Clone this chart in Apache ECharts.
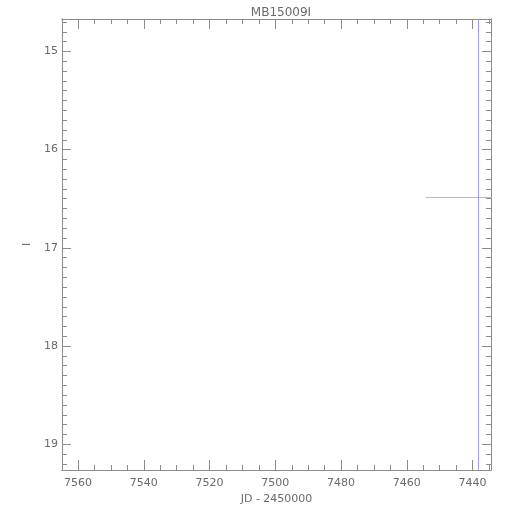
<!DOCTYPE html>
<html><head><meta charset="utf-8">
<script src="https://cdn.jsdelivr.net/npm/echarts@6/dist/echarts.min.js"></script>
<style>html,body{margin:0;padding:0;background:#fff}#c{width:510px;height:510px}</style>
</head><body><div id="c"></div>
<script>
const title = 'MB15009I';
const xName = 'JD - 2450000';
const yName = 'I';
const xRange = [7434.4, 7564.9];
const yRange = [14.67, 19.262];
const xMajorTicks = [7440, 7460, 7480, 7500, 7520, 7540, 7560];
const yMajorTicks = [15, 16, 17, 18, 19];
const xMinorStep = 5;
const yMinorStep = 0.1;
const greenLineX = [7454.3, 7420];
const greenLineY = [16.487, 16.487];
const blueLineX = 7438.17;

const xMinor = [];
for (let v = Math.ceil(xRange[0] / xMinorStep) * xMinorStep; v <= xRange[1]; v += xMinorStep) xMinor.push(v);
const yMinor = [];
for (let i = Math.ceil(yRange[0] / yMinorStep); i * yMinorStep <= yRange[1]; i++) yMinor.push(Math.round(i * yMinorStep * 10) / 10);

const axisColor = '#8c8c8c';
const textColor = '#6a6a6a';
const font = 'DejaVu Sans';

function xAx(pos, ticks, len, labels) {
  return {
    type: 'value', position: pos, inverse: true, min: xRange[0], max: xRange[1],
    axisLine: { show: true, onZero: false, lineStyle: { color: axisColor, width: 1 } },
    axisTick: { show: true, inside: true, length: len, customValues: ticks, lineStyle: { color: axisColor } },
    axisLabel: labels ? { show: true, customValues: xMajorTicks, formatter: v => String(v), color: textColor, fontFamily: font, fontSize: 11, margin: 8 } : { show: false },
    splitLine: { show: false },
    name: labels ? xName : '', nameLocation: 'middle', nameGap: 24,
    nameTextStyle: { color: textColor, fontFamily: font, fontSize: 11 }
  };
}
function yAx(pos, ticks, len, labels) {
  return {
    type: 'value', position: pos, inverse: true, min: yRange[0], max: yRange[1],
    axisLine: { show: true, onZero: false, lineStyle: { color: axisColor, width: 1 } },
    axisTick: { show: true, inside: true, length: len, customValues: ticks, lineStyle: { color: axisColor } },
    axisLabel: labels ? { show: true, customValues: yMajorTicks, formatter: v => String(v), color: textColor, fontFamily: font, fontSize: 11, margin: 4 } : { show: false },
    splitLine: { show: false },
    name: labels ? yName : '', nameLocation: 'middle', nameGap: 29, nameRotate: 90,
    nameTextStyle: { color: textColor, fontFamily: font, fontSize: 11 }
  };
}

const chart = echarts.init(document.getElementById('c'), null, { renderer: 'canvas' });
chart.setOption({
  animation: false,
  backgroundColor: '#fff',
  title: { text: title, left: 276, top: 2, textAlign: 'center',
    textStyle: { color: textColor, fontFamily: font, fontSize: 12, fontWeight: 'normal' } },
  grid: { left: 62, right: 19, top: 19, bottom: 40, containLabel: false },
  xAxis: [
    xAx('bottom', xMajorTicks, 10, true),
    xAx('top', xMajorTicks, 10, false),
    xAx('bottom', xMinor, 5, false),
    xAx('top', xMinor, 5, false)
  ],
  yAxis: [
    yAx('left', yMajorTicks, 9, true),
    yAx('right', yMajorTicks, 9, false),
    yAx('left', yMinor, 5, false),
    yAx('right', yMinor, 5, false)
  ],
  series: [
    {
      type: 'line', xAxisIndex: 0, yAxisIndex: 0, clip: true, showSymbol: false, symbol: 'none',
      data: greenLineX.map((x, i) => [x, greenLineY[i]]),
      lineStyle: { color: '#7fe07f', width: 1 },
      markLine: {
        silent: true, symbol: 'none', label: { show: false },
        lineStyle: { color: '#9a9aff', width: 1, type: 'solid' },
        data: [{ xAxis: blueLineX }]
      }
    }
  ]
});
</script></body></html>
